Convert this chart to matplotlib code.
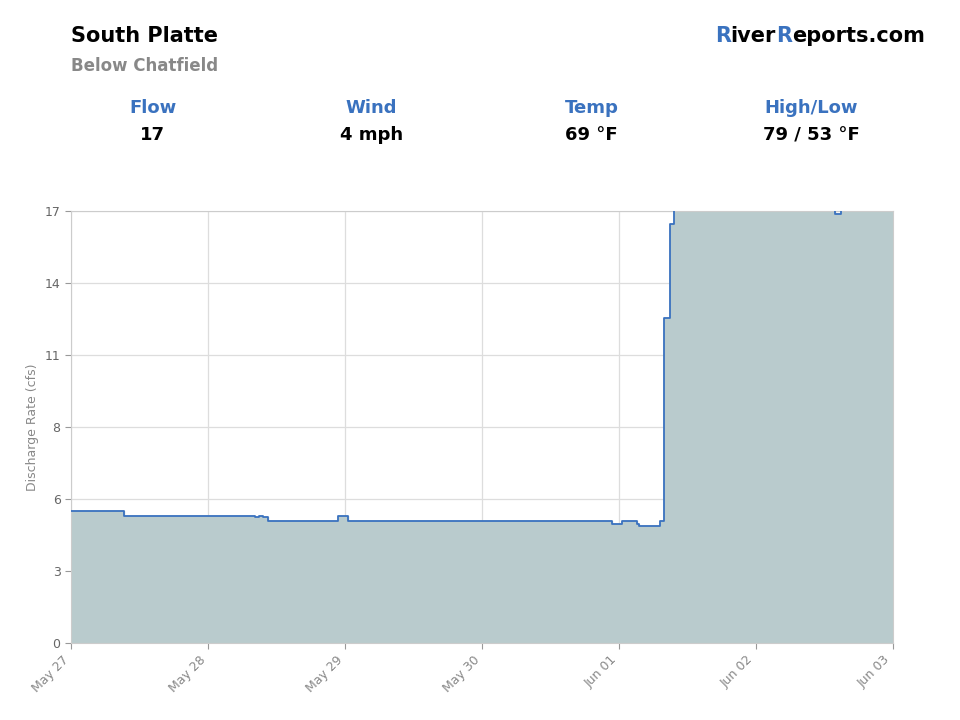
import matplotlib.pyplot as plt
import numpy as np

# step series: time in days since May 27 00:00, flow in cfs
days = [0.0, 0.39, 1.34, 1.37, 1.40, 1.44, 1.95, 2.02, 3.95, 4.0, 4.02, 4.13, 4.15, 4.2, 4.30, 4.33, 4.37,
        4.40, 5.58, 5.62, 6.0]
flow = [5.2, 5.0, 4.95, 5.0, 4.95, 4.8, 5.0, 4.8, 4.7, 4.7, 4.8, 4.7, 4.6, 4.6, 4.8, 12.8, 16.5,
        17.5, 16.9, 17.5, 17.5]
tick_labels = ["May 27", "May 28", "May 29", "May 30", "Jun 01", "Jun 02", "Jun 03"]

blue = "#3a72bf"
fig = plt.figure(figsize=(9.6, 7.2), dpi=100)
ax = fig.add_axes([0.074, 0.107, 0.856, 0.6])

ax.fill_between(days, flow, step="post", color="#b9cbcd", zorder=2)
ax.step(days, flow, where="post", color=blue, lw=1.3, zorder=3)
ax.set_xlim(0, 6)
ax.set_ylim(0, 17)
ax.set_xticks(range(7))
ax.set_xticklabels(tick_labels, rotation=45, ha="right", color="#888888", fontsize=9)
yt = np.linspace(0, 17, 7)
ax.set_yticks(yt)
ax.set_yticklabels(["0", "3", "6", "8", "11", "14", "17"], color="#666666", fontsize=9)
ax.grid(color="#dddddd", lw=0.9, zorder=1)
for s in ax.spines.values():
    s.set_color("#cccccc")
ax.tick_params(length=4, color="#999999")
ax.set_ylabel("Discharge Rate (cfs)", color="#888888", fontsize=9)

fig.text(0.074, 0.95, "South Platte", fontsize=15, weight="bold", va="center")
fig.text(0.074, 0.908, "Below Chatfield", fontsize=12, weight="bold", color="#888888", va="center")

# logo: pieces placed one after another, right aligned at x=925px
renderer = fig.canvas.get_renderer()
parts = [("R", blue), ("iver", "black"), ("R", blue), ("eports.com", "black")]
texts = [fig.text(0, 0.95, s, fontsize=15, weight="bold", color=c, va="center") for s, c in parts]
widths = [t.get_window_extent(renderer).width for t in texts]
x = 925 - sum(widths)
for t, w in zip(texts, widths):
    t.set_x(x / 960)
    x += w

heads = ["Flow", "Wind", "Temp", "High/Low"]
vals = ["17", "4 mph", "69 °F", "79 / 53 °F"]
xs = [0.159, 0.387, 0.616, 0.845]
for xc, h, v in zip(xs, heads, vals):
    fig.text(xc, 0.85, h, fontsize=13, weight="bold", color=blue, ha="center", va="center")
    fig.text(xc, 0.812, v, fontsize=13, weight="bold", ha="center", va="center")

fig.savefig("out.png", dpi=100)
